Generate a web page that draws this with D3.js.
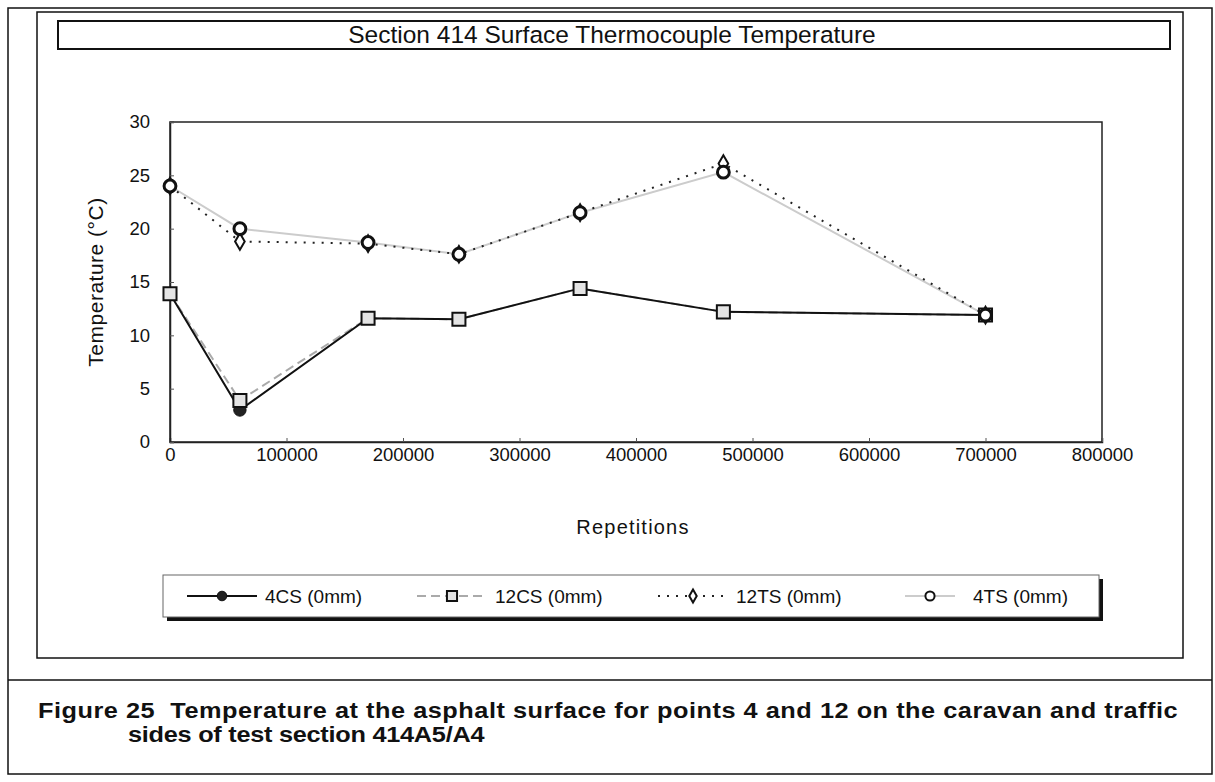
<!DOCTYPE html>
<meta charset="utf-8">
<script src="https://d3js.org/d3.v7.min.js"></script>
<style>
  body { margin: 0; background: #fff; }
  text { font-family: "Liberation Sans", Arial, sans-serif; fill: #111; }
</style>
<div id="chart"></div>
<script>

// Data
var reps   = [0, 60000, 170000, 248000, 352000, 475000, 700000];
var cs4    = [13.9, 3.0, 11.6, 11.5, 14.4, 12.2, 11.9];
var cs12   = [13.9, 3.9, 11.6, 11.5, 14.4, 12.2, 11.9];
var ts12   = [24.0, 18.8, 18.6, 17.6, 21.5, 26.1, 11.9];
var ts4    = [24.0, 20.0, 18.7, 17.6, 21.5, 25.3, 11.9];
var seriesNames = ["4CS (0mm)", "12CS (0mm)", "12TS (0mm)", "4TS (0mm)"];
var xTicks = [0, 100000, 200000, 300000, 400000, 500000, 600000, 700000, 800000];
var yTicks = [0, 5, 10, 15, 20, 25, 30];

var W = 1215, H = 782;
var plot = {left: 170, top: 122, right: 1102, bottom: 442};

var svg = d3.select("#chart").append("svg")
    .attr("width", W)
    .attr("height", H);

// page frames
svg.append("rect").attr("x", 8).attr("y", 8).attr("width", 1204).attr("height", 766)
  .attr("fill", "none").attr("stroke", "#111").attr("stroke-width", 1.5);
svg.append("rect").attr("x", 37).attr("y", 12).attr("width", 1146).attr("height", 646)
  .attr("fill", "none").attr("stroke", "#111").attr("stroke-width", 1.5);
svg.append("line").attr("x1", 8).attr("x2", 1212).attr("y1", 680).attr("y2", 680)
  .attr("stroke", "#111").attr("stroke-width", 1.5);

// title box
svg.append("rect").attr("x", 58).attr("y", 21).attr("width", 1112).attr("height", 28)
  .attr("fill", "none").attr("stroke", "#111").attr("stroke-width", 2);
svg.append("text")
  .attr("x", 612).attr("y", 43)
  .attr("text-anchor", "middle")
  .attr("font-size", "24.5px")
  .text("Section 414 Surface Thermocouple Temperature");

var x = d3.scaleLinear().domain([0, 800000]).range([plot.left, plot.right]);
var y = d3.scaleLinear().domain([0, 30]).range([plot.bottom, plot.top]);

// plot area border
svg.append("rect")
  .attr("x", plot.left).attr("y", plot.top)
  .attr("width", plot.right - plot.left).attr("height", plot.bottom - plot.top)
  .attr("fill", "none").attr("stroke", "#222").attr("stroke-width", 1.5);

var xAxis = svg.append("g")
  .attr("transform", "translate(0," + plot.bottom + ")")
  .call(d3.axisBottom(x).tickValues(xTicks).tickFormat(d3.format("d")).tickSize(-4).tickPadding(6));
var yAxis = svg.append("g")
  .attr("transform", "translate(" + plot.left + ",0)")
  .call(d3.axisLeft(y).tickValues(yTicks).tickSize(-4).tickPadding(20));
[xAxis, yAxis].forEach(function(a) {
  a.select(".domain").attr("stroke", "#222").attr("stroke-width", 1.5);
  a.selectAll(".tick line").attr("stroke", "#555");
  a.selectAll(".tick text").attr("font-size", "18.5px").attr("fill", "#111")
    .attr("font-family", "'Liberation Sans', Arial, sans-serif");
});

// axis titles
svg.append("text")
  .attr("x", 633).attr("y", 534)
  .attr("text-anchor", "middle")
  .attr("font-size", "20px")
  .attr("letter-spacing", "1.2px")
  .text("Repetitions");
svg.append("text")
  .attr("transform", "translate(103,282) rotate(-90)")
  .attr("text-anchor", "middle")
  .attr("font-size", "21px")
  .attr("letter-spacing", "0.5px")
  .text("Temperature (\u00B0C)");

// series styling
var series = [
  {name: seriesNames[0], values: cs4,  stroke: "#111", width: 2,   dash: null,   sym: d3.symbolCircle,  size: 120, fill: "#222", mstroke: "#111", mw: 1},
  {name: seriesNames[1], values: cs12, stroke: "#aaa", width: 2,   dash: "9,5",  sym: d3.symbolSquare,  size: 170, fill: "#e4e4e4", mstroke: "#111", mw: 2},
  {name: seriesNames[2], values: ts12, stroke: "#222", width: 2,   dash: "2,7",  sym: d3.symbolDiamond, size: 80,  fill: "#fff", mstroke: "#111", mw: 2},
  {name: seriesNames[3], values: ts4,  stroke: "#ccc", width: 2,   dash: null,   sym: d3.symbolCircle,  size: 110, fill: "#fff", mstroke: "#111", mw: 3}
];

var line = d3.line()
  .x(function(d) { return x(d[0]); })
  .y(function(d) { return y(d[1]); });

// draw lines: light ones first so the dark ones sit on top
[3, 1, 2, 0].forEach(function(i) {
  var s = series[i];
  svg.append("path")
    .datum(reps.map(function(r, j) { return [r, s.values[j]]; }))
    .attr("d", line)
    .attr("fill", "none")
    .attr("stroke", s.stroke)
    .attr("stroke-width", s.width)
    .attr("stroke-dasharray", s.dash);
});

series.forEach(function(s) {
  svg.append("g").selectAll("path")
    .data(reps.map(function(r, j) { return [r, s.values[j]]; }))
    .enter().append("path")
      .attr("transform", function(d) { return "translate(" + x(d[0]) + "," + y(d[1]) + ")"; })
      .attr("d", d3.symbol().type(s.sym).size(s.size))
      .attr("fill", s.fill)
      .attr("stroke", s.mstroke)
      .attr("stroke-width", s.mw);
});

// legend
var lg = {x: 163, y: 575, w: 936, h: 42};
svg.append("rect").attr("x", lg.x + 4).attr("y", lg.y + 4).attr("width", lg.w).attr("height", lg.h)
  .attr("fill", "#111");
svg.append("rect").attr("x", lg.x).attr("y", lg.y).attr("width", lg.w).attr("height", lg.h)
  .attr("fill", "#fff").attr("stroke", "#666").attr("stroke-width", 1);

var legendX = [187, 417, 658, 905];
series.forEach(function(s, i) {
  var lx = legendX[i], ly = lg.y + 21;
  svg.append("line")
    .attr("x1", lx).attr("x2", lx + (i == 3 ? 50 : 70)).attr("y1", ly).attr("y2", ly)
    .attr("stroke", s.stroke).attr("stroke-width", s.width)
    .attr("stroke-dasharray", s.dash);
  svg.append("path")
    .attr("transform", "translate(" + (lx + (i == 3 ? 25 : 35)) + "," + ly + ")")
    .attr("d", d3.symbol().type(s.sym).size(s.size * 0.6))
    .attr("fill", s.fill).attr("stroke", s.mstroke).attr("stroke-width", Math.min(s.mw, 2));
  svg.append("text")
    .attr("x", lx + (i == 3 ? 68 : 78)).attr("y", ly + 7)
    .attr("font-size", "19px")
    .text(s.name);
});

// caption (the scan is a little wider than Arial, so stretch it horizontally)
svg.append("text")
  .attr("transform", "translate(38,718) scale(1.15,1)")
  .attr("font-size", "22px").attr("font-weight", "bold")
  .attr("textLength", 991).attr("lengthAdjust", "spacing")
  .style("white-space", "pre")
  .text("Figure 25  Temperature at the asphalt surface for points 4 and 12 on the caravan and traffic");
svg.append("text")
  .attr("transform", "translate(128,742) scale(1.15,1)")
  .attr("font-size", "22px").attr("font-weight", "bold")
  .attr("textLength", 310).attr("lengthAdjust", "spacing")
  .text("sides of test section 414A5/A4");

</script>
